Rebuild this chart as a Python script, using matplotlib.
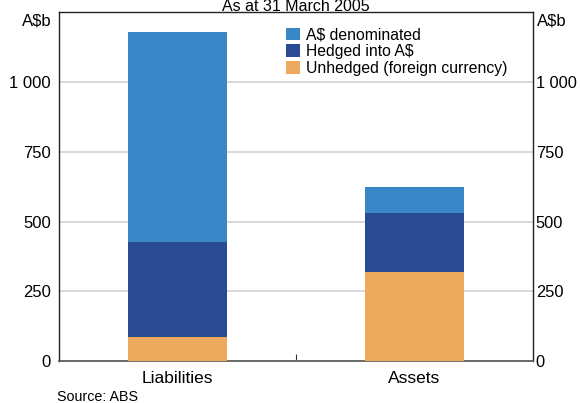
import matplotlib
matplotlib.use("Agg")
import matplotlib.pyplot as plt
from matplotlib.ticker import FuncFormatter

categories = ["Liabilities", "Assets"]
unhedged = [86, 319]
hedged = [341, 211]
a_denominated = [754, 93]
series_names = ["A$ denominated", "Hedged into A$", "Unhedged (foreign currency)"]
yticks = [0, 250, 500, 750, 1000]

c_light = "#3A87C8"
c_dark = "#2A4A94"
c_orange = "#EDA95E"

plt.rcParams['font.family'] = ['Liberation Sans', 'DejaVu Sans']

fig = plt.figure(figsize=(5.8, 4.03), dpi=100)
ax = fig.add_axes([59/580, 1-361/403, (533-59)/580, (361-12.3)/403])

x = list(range(len(categories)))
w = 0.42
b1 = ax.bar(x, unhedged, w, color=c_orange, zorder=3, label=series_names[2])
b2 = ax.bar(x, hedged, w, bottom=unhedged, color=c_dark, zorder=3, label=series_names[1])
bot = [u + h for u, h in zip(unhedged, hedged)]
b3 = ax.bar(x, a_denominated, w, bottom=bot, color=c_light, zorder=3, label=series_names[0])

ax.set_xlim(-0.5, 1.5)
ax.set_ylim(0, 1250)
ax.set_yticks(yticks)
fmt = FuncFormatter(lambda v, p: f"{int(v):,}".replace(",", " "))
ax.yaxis.set_major_formatter(fmt)
ax.tick_params(axis='y', length=0, labelsize=12, pad=6)
ax.grid(axis='y', color='#D3D5DA', linewidth=1.3, zorder=0)

ax2 = ax.twinx()
ax2.set_ylim(0, 1250)
ax2.set_yticks(yticks)
ax2.yaxis.set_major_formatter(fmt)
ax2.tick_params(axis='y', length=0, labelsize=11.8, pad=2)
for s in ax2.spines.values():
    s.set_visible(False)

ax.set_xticks([0.5])
ax.set_xticklabels([])
ax.tick_params(axis='x', direction='in', length=5, color='#333333')
for xi, c in zip(x, categories):
    ax.text(xi, -0.03, c, transform=ax.get_xaxis_transform(), ha='center', va='top', fontsize=12.5)

for s in ['left', 'right', 'top']:
    ax.spines[s].set_color('#222222')
    ax.spines[s].set_linewidth(1.0)
ax.spines['bottom'].set_color('#555555')
ax.spines['bottom'].set_linewidth(1.2)

fig.text(52/580, 1-21/403, "A$b", ha='right', va='center', fontsize=12)
fig.text(537/580, 1-21/403, "A$b", ha='left', va='center', fontsize=12)
fig.text(296/580, 1-11/403, "As at 31 March 2005", ha='center', va='baseline', fontsize=11.5)
fig.text(57/580, 1-397/403, "Source: ABS", ha='left', va='center', fontsize=10.3)

handles = [b3, b2, b1]
ax.legend(handles, series_names, loc='upper left', bbox_to_anchor=((280-59)/474, 0.975),
          frameon=False, fontsize=11.3, handlelength=0.85, handleheight=0.85,
          handletextpad=0.4, labelspacing=0.12, borderaxespad=0)

fig.savefig("out.png", dpi=100)
